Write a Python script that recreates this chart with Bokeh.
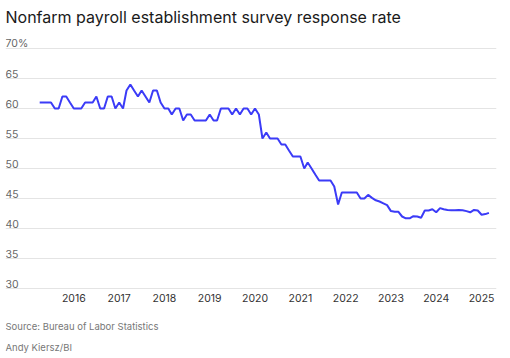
import pandas as pd
from bokeh.plotting import figure
from bokeh.models import Range1d, FixedTicker
from bokeh.core.properties import value
from bokeh.embed import file_html
from bokeh.resources import INLINE

# ---- data ----
months = pd.date_range("2015-04-01", periods=120, freq="MS")
response_rate = [
    61, 61, 61, 61, 60, 60, 62, 62, 61,            # Apr-Dec 2015
    60, 60, 60, 61, 61, 61, 62, 60, 60, 62, 62, 60,  # 2016
    61, 60, 63, 64, 63, 62, 63, 62, 61, 63, 63, 61,  # 2017
    60, 60, 59, 60, 60, 58, 59, 59, 58, 58, 58, 58,  # 2018
    59, 58, 58, 60, 60, 60, 59, 60, 59, 60, 60, 59,  # 2019
    60, 59, 55, 56, 55, 55, 55, 54, 54, 53, 52, 52,  # 2020
    52, 50, 51, 50, 49, 48, 48, 48, 48, 47, 44, 46,  # 2021
    46, 46, 46, 46, 45, 45, 45.6, 45.1, 44.7, 44.5, 44.2, 43.9,  # 2022
    42.9, 42.8, 42.8, 42.0, 41.7, 41.7, 42.05, 42.0, 41.8, 43.0, 43.0, 43.2,  # 2023
    42.7, 43.4, 43.2, 43.1, 43.05, 43.05, 43.1, 43.05, 42.9, 42.7, 43.1, 43.0,  # 2024
    42.3, 42.4, 42.6,                               # Jan-Mar 2025
]
year_ticks = list(range(2016, 2026))
year_labels = [str(y) for y in year_ticks]
y_ticks = [30, 35, 40, 45, 50, 55, 60, 65, 70]
y_labels = ["30", "35", "40", "45", "50", "55", "60", "65", "70%"]

title_text = "Nonfarm payroll establishment survey response rate"
source_text = "Source: Bureau of Labor Statistics"
credit_text = "Andy Kiersz/BI"

# ---- geometry ----
FONT = "Inter"
LEFT = 5
FRAME_W, FRAME_H = 491, 358
PX_PER_YEAR = 45.3
PX_PER_UNIT = 6.0
YEAR_MS = 365.25 * 86400000
jan2016 = pd.Timestamp("2016-01-01").value / 1e6
x_start = jan2016 - (73.3 - LEFT) / PX_PER_YEAR * YEAR_MS
x_end = x_start + FRAME_W / PX_PER_YEAR * YEAR_MS
y_top = 70 + 48 / PX_PER_UNIT
y_bottom = y_top - FRAME_H / PX_PER_UNIT
y_min = min(y_ticks)

p = figure(
    frame_width=FRAME_W, frame_height=FRAME_H,
    x_axis_location=None, y_axis_location=None,
    x_range=Range1d(x_start, x_end), y_range=Range1d(y_bottom, y_top),
    output_backend="svg", toolbar_location=None,
    min_border=0, min_border_left=LEFT, min_border_right=14,
    outline_line_color=None,
)
p.background_fill_color = "white"
p.border_fill_color = "white"

# grid
p.xgrid.visible = False
p.ygrid.ticker = FixedTicker(ticks=y_ticks)
p.ygrid.grid_line_color = "#e4e4e4"
p.ygrid.grid_line_width = 1

# x tick labels (years, centred on January)
tick_ms = [pd.Timestamp(f"{y}-01-01").value / 1e6 for y in year_ticks]
p.text(x=tick_ms, y=[y_min] * len(tick_ms), text=year_labels,
       text_font=value(FONT), text_font_size="10.5px", text_color="#333333",
       text_align="center", text_baseline="middle", y_offset=9.5)

# y labels above gridlines
p.text(x=[x_start] * len(y_ticks), y=y_ticks, text=y_labels,
       text_font=value(FONT), text_font_size="10.5px", text_color="#666666",
       text_align="left", text_baseline="alphabetic", y_offset=-5)

# line
p.line(x=months, y=response_rate, line_color="#3b3bf7", line_width=2)

# title
p.text(x=[x_start], y=[y_top], text=[title_text], text_font=value(FONT),
       text_font_size="16px", text_color="#1a1a1a", text_align="left",
       text_baseline="middle", y_offset=16.2)

# source / credit
p.text(x=[x_start, x_start], y=[y_min, y_min], text=[source_text, credit_text],
       text_font=value(FONT), text_font_size="9.5px", text_color="#777777",
       text_align="left", text_baseline="middle", y_offset=[38, 59])

open("out.html", "w").write(file_html(p, INLINE))
